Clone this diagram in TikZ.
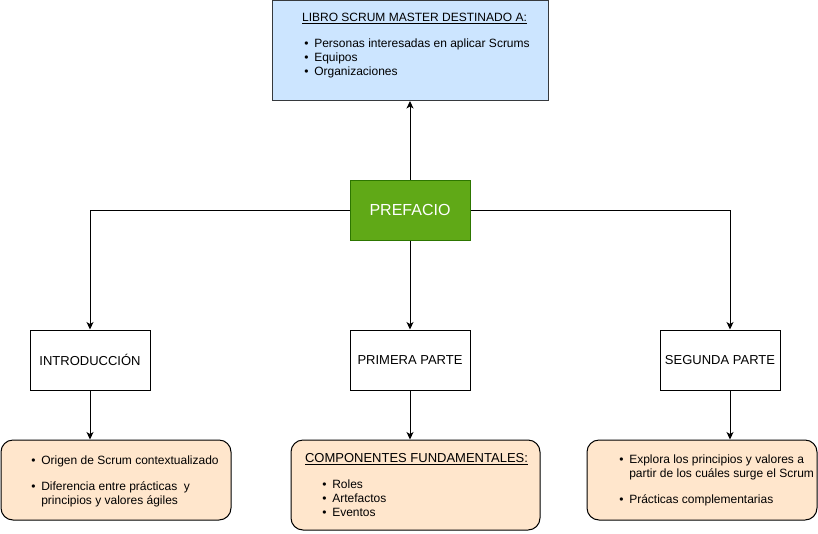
\documentclass[tikz,border=0pt]{standalone}
\usepackage{fontspec}
\setmainfont{Liberation Sans}
\usetikzlibrary{arrows.meta}
\definecolor{libroblue}{HTML}{CCE5FF}
\definecolor{libroline}{HTML}{36393D}
\definecolor{prefgreen}{HTML}{60A917}
\definecolor{prefline}{HTML}{2D7600}
\definecolor{notepeach}{HTML}{FFE6CC}
\newcommand{\bul}{\makebox[7.5pt][l]{\textbullet}}
\newcommand{\cont}{\hspace*{7.5pt}}
\begin{document}
\begin{tikzpicture}[x=0.75pt,y=-0.75pt,
    every node/.style={inner sep=0pt},
    part/.style={draw,line width=0.75pt,fill=white,minimum width=90pt,minimum height=45pt,font=\fontsize{9.75}{11.7}\selectfont},
    note/.style={draw,line width=0.75pt,fill=notepeach,rounded corners=9pt},
    list/.style={anchor=north west,align=left,font=\fontsize{9}{10.8}\selectfont},
    link/.style={line width=0.75pt,-{Stealth[length=5.6pt,width=5.2pt,inset=1.5pt]}}]
    \useasboundingbox (0,0) rectangle (818,533);
    %% Destinatarios
    \node[draw=libroline,fill=libroblue,line width=0.75pt,minimum width=207pt,minimum height=75pt] (libro) at (410,50.5) {};
    \node[anchor=base,font=\fontsize{9}{10.8}\selectfont] (libroTit) at (414.5,21) {\underline{LIBRO SCRUM MASTER DESTINADO A:}};
    \node[list] (libroLista) at (304,38.2) {\bul Personas interesadas en aplicar Scrums\\ \bul Equipos\\ \bul Organizaciones};
    %% Prefacio
    \node[draw=prefline,fill=prefgreen,line width=0.75pt,minimum width=90pt,minimum height=45pt,text=white,font=\fontsize{12}{14.4}\selectfont] (pref) at (410,210) {PREFACIO};
    %% Partes
    \node[part] (intro) at (90,360) {INTRODUCCIÓN};
    \node[part] (prim) at (410,360) {PRIMERA PARTE};
    \node[part] (seg) at (720,360) {SEGUNDA PARTE};
    %% Notas
    \node[note,minimum width=172.5pt,minimum height=60pt] (introNota) at (116,480) {};
    \node[list] (introLista) at (31,455.2) {\bul Origen de Scrum contextualizado\\[8.7pt] \bul Diferencia entre prácticas\ \ y\\ \cont principios y valores ágiles};
    \node[note,minimum width=186.75pt,minimum height=67.5pt] (primNota) at (415.5,485) {};
    \node[anchor=base,font=\fontsize{9.75}{11.7}\selectfont] (primTit) at (416.5,462) {\underline{COMPONENTES FUNDAMENTALES:}};
    \node[list] (primLista) at (322,479.2) {\bul Roles\\ \bul Artefactos\\ \bul Eventos};
    \node[note,minimum width=172.5pt,minimum height=60pt] (segNota) at (702,480) {};
    \node[list] (segLista) at (619,454.2) {\bul Explora los principios y valores a\\ \cont partir de los cuáles surge el Scrum\\[8.7pt] \bul Prácticas complementarias};
    %% Flechas
    \draw[link] (pref.north) -- (libro.south);
    \draw[link] (pref.west) -| (intro.north);
    \draw[link] (pref.south) -- (prim.north);
    \draw[link] (pref.east) -| ([xshift=7.5pt]seg.north);
    \draw[link] (intro.south) -- (intro.south |- introNota.north);
    \draw[link] (prim.south) -- (prim.south |- primNota.north);
    \draw[link] ([xshift=7.5pt]seg.south) -- ([xshift=7.5pt]seg.south |- segNota.north);
\end{tikzpicture}
\end{document}
